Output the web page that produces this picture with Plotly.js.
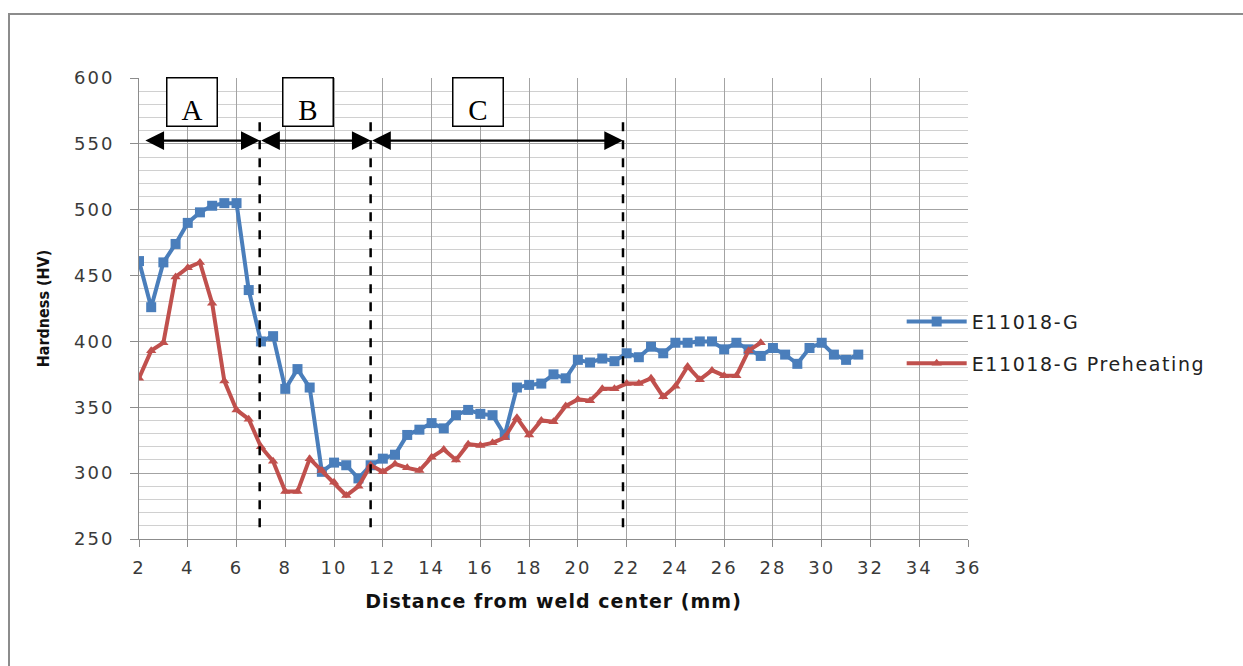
<!DOCTYPE html>
<html>
<head>
<meta charset="utf-8">
<script src="https://cdn.plot.ly/plotly-3.0.1.min.js"></script>
<style>
  html, body { margin: 0; padding: 0; background: #fff; }
  #wrap { position: relative; width: 1243px; height: 666px; overflow: hidden; }
  #frame { position: absolute; left: 8px; top: 13px; width: 1300px; height: 700px;
           border-left: 2px solid #8c8c8c; border-top: 2px solid #8c8c8c; box-sizing: border-box; }
  #chart { position: absolute; left: 0; top: 0; width: 1243px; height: 666px; }
  .xtick text, .ytick text { letter-spacing: 2px; }
  .legendtext { letter-spacing: 1.6px; }
  .xtitle { letter-spacing: 1px; }
</style>
</head>
<body>
<div id="wrap">
  <div id="frame"></div>
  <div id="chart"></div>
</div>
<script>
// Distances (mm) and hardness (HV)
const xBase = [2,2.5,3,3.5,4,4.5,5,5.5,6,6.5,7,7.5,8,8.5,9,9.5,10,10.5,11,11.5,12,12.5,13,13.5,14,14.5,15,15.5,16,16.5,17,17.5,18,18.5,19,19.5,20,20.5,21,21.5,22,22.5,23,23.5,24,24.5,25,25.5,26,26.5,27,27.5,28,28.5,29,29.5,30,30.5,31,31.5];
const hvBase = [461,426,460,474,490,498,503,505,505,439,400,404,364,379,365,301,308,306,296,306,311,314,329,333,338,334,344,348,345,344,329,365,367,368,375,372,386,384,387,385,391,388,396,391,399,399,400,400,394,399,394,389,395,390,383,395,399,390,386,390];

const xPre = [2,2.5,3,3.5,4,4.5,5,5.5,6,6.5,7,7.5,8,8.5,9,9.5,10,10.5,11,11.5,12,12.5,13,13.5,14,14.5,15,15.5,16,16.5,17,17.5,18,18.5,19,19.5,20,20.5,21,21.5,22,22.5,23,23.5,24,24.5,25,25.5,26,26.5,27,27.5];
const hvPre = [372,393,399,449,456,460,429,370,348,341,320,309,286,286,311,302,293,283,290,306,301,307,304,302,312,318,310,322,321,323,327,342,329,340,339,351,356,355,364,364,368,368,372,358,366,381,371,378,374,374,393,399];

const seriesNames = ['E11018-G', 'E11018-G Preheating'];

// Zone markers
const zoneLabels = ['A', 'B', 'C'];
const zoneLabelX = [4.16, 8.95, 15.91];
const zoneStart = [2.2, 6.95, 11.5];
const zoneEnd = [6.95, 11.5, 21.85];
const zoneBounds = [6.95, 11.5, 21.85];

const xTickVals = [2,4,6,8,10,12,14,16,18,20,22,24,26,28,30,32,34,36];
const yTickVals = [250,300,350,400,450,500,550,600];

const tickFont = {family: 'DejaVu Sans, Liberation Sans, sans-serif', size: 18, color: '#3a3a3a'};

const traces = [
  {x: xBase, y: hvBase, name: seriesNames[0], type: 'scatter', mode: 'lines+markers',
   legendgroup: 'g1',
   line: {color: '#4a7ebb', width: 4}, marker: {symbol: 'square', size: 10, color: '#4a7ebb'}},
  {x: xPre, y: hvPre, name: seriesNames[1], type: 'scatter', mode: 'lines+markers',
   legendgroup: 'g2',
   line: {color: '#c0504d', width: 4}, marker: {symbol: 'triangle-up', size: 9, color: '#c0504d'}}
];

const shapes = zoneBounds.map(b => ({
  type: 'line', xref: 'x', yref: 'y', x0: b, x1: b, y0: 259, y1: 573,
  line: {color: '#000', width: 2.5, dash: 'dash'}
}));

const annotations = [];
zoneLabels.forEach((lab, i) => {
  annotations.push({
    x: zoneLabelX[i], y: 582, xref: 'x', yref: 'y', text: lab, showarrow: false,
    font: {family: 'Liberation Serif, Times New Roman, serif', size: 29, color: '#000'},
    bordercolor: '#000', borderwidth: 1.5, bgcolor: '#fff', width: 49, height: 47,
    valign: 'bottom', borderpad: 0
  });
  annotations.push({
    x: zoneEnd[i], y: 552.5, ax: zoneStart[i], ay: 552.5, xref: 'x', yref: 'y',
    axref: 'x', ayref: 'y', text: '', showarrow: true, arrowside: 'end+start',
    arrowhead: 2, arrowsize: 1.7, arrowwidth: 2.2, arrowcolor: '#000', standoff: 0, startstandoff: 0
  });
});

const layout = {
  width: 1243, height: 666,
  margin: {l: 139, r: 275, t: 78, b: 127},
  paper_bgcolor: 'rgba(0,0,0,0)', plot_bgcolor: 'rgba(0,0,0,0)',
  showlegend: true,
  legend: {x: 0.92, xanchor: 'left', y: 0.426, yanchor: 'middle', bgcolor: 'rgba(0,0,0,0)',
           traceorder: 'grouped', tracegroupgap: 14, itemwidth: 60,
           font: {family: 'DejaVu Sans, Liberation Sans, sans-serif', size: 19, color: '#222'}},
  xaxis: {
    range: [2, 36], tickvals: xTickVals, ticktext: xTickVals.map(String),
    showgrid: true, gridcolor: '#a3a3a3', gridwidth: 1,
    showline: true, linecolor: '#8c8c8c', linewidth: 1,
    ticks: 'outside', ticklen: 7, tickcolor: '#8c8c8c', ticklabelstandoff: 5,
    zeroline: false, tickfont: tickFont,
    title: {text: '<b>Distance from weld center (mm)</b>', standoff: 18,
            font: {family: 'DejaVu Sans, Liberation Sans, sans-serif', size: 19, color: '#111'}}
  },
  yaxis: {
    range: [250, 600], tickvals: yTickVals, ticktext: yTickVals.map(String),
    showgrid: true, gridcolor: '#a3a3a3', gridwidth: 1,
    minor: {dtick: 10, showgrid: true, gridcolor: '#d0d0d0', gridwidth: 1, ticks: ''},
    showline: true, linecolor: '#8c8c8c', linewidth: 1,
    ticks: 'outside', ticklen: 8, tickcolor: '#8c8c8c', ticklabelstandoff: 12,
    zeroline: false, tickfont: tickFont,
    title: {text: '<b>Hardness (HV)</b>', standoff: 20,
            font: {family: 'DejaVu Sans Condensed, DejaVu Sans, sans-serif', size: 16, color: '#111'}}
  },
  shapes: shapes,
  annotations: annotations
};

Plotly.newPlot('chart', traces, layout, {displayModeBar: false, staticPlot: true});
</script>
</body>
</html>
